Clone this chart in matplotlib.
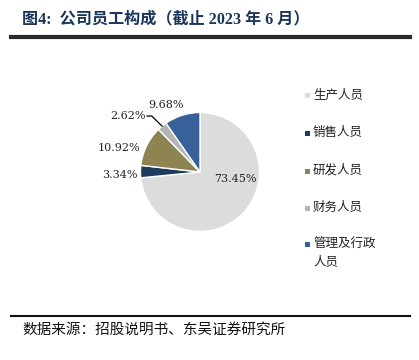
import matplotlib
matplotlib.use("Agg")
import matplotlib.pyplot as plt
from matplotlib.patches import Rectangle
from matplotlib.lines import Line2D
import numpy as np

plt.rcParams['font.family'] = ['Noto Sans CJK SC', 'DejaVu Sans']

categories = ['生产人员', '销售人员', '研发人员', '财务人员', '管理及行政人员']
legend_labels = ['生产人员', '销售人员', '研发人员', '财务人员', '管理及行政\n人员']
shares = [73.45, 3.34, 10.92, 2.62, 9.68]
colors = ['#dcdcdc', '#1d3a5f', '#8e8452', '#b5b5b5', '#38619a']

# label positions in units of the pie radius
label_pos = [(0.59, -0.12), (-1.34, -0.05), (-1.36, 0.40), (-1.21, 0.94), (-0.57, 1.13)]

W, H = 419, 360
fig = plt.figure(figsize=(W / 100, H / 100), dpi=100)

# title and rules
fig.text(22 / W, 1 - 19 / H, '图4:  公司员工构成（截止 2023 年 6 月）', fontsize=11.6,
         fontweight='bold', color='#1b365d', va='center', ha='left',
         family=['Liberation Serif', 'Noto Sans CJK SC'])
fig.add_artist(Line2D([11 / W, 410 / W], [1 - 36.5 / H] * 2, color='#2a2a2a', lw=3))
fig.add_artist(Line2D([11 / W, 410 / W], [1 - 315.5 / H] * 2, color='#111111', lw=1.5))
fig.text(22 / W, 1 - 330 / H, '数据来源：招股说明书、东吴证券研究所', fontsize=10.5,
         color='#111111', va='center', ha='left')

# pie
cx, cy, R = 200, 172, 59.5
box = 70
ax = fig.add_axes([(cx - box) / W, (H - cy - box) / H, 2 * box / W, 2 * box / H])
wedges, _ = ax.pie(shares, colors=colors, startangle=90, counterclock=False,
                   radius=R / box, wedgeprops=dict(edgecolor='white', linewidth=1))
ax.set_xlim(-1, 1)
ax.set_ylim(-1, 1)
ax.set_aspect('equal')
ax.axis('off')

s = R / box
for i, (v, (lx, ly)) in enumerate(zip(shares, label_pos)):
    txt = f'{v:.2f}%'
    if i == 3:
        w = wedges[i]
        mid = np.deg2rad((w.theta1 + w.theta2) / 2)
        ex, ey = np.cos(mid) * s, np.sin(mid) * s
        ax.plot([(-0.89) * s, (-0.81) * s, ex], [ly * s, ly * s, ey], color='black', lw=0.9,
                clip_on=False)
    ax.text(lx * s, ly * s, txt, fontsize=8, ha='center', va='center', color='#222222',
            family=['DejaVu Serif'], clip_on=False)

# legend
rows = [95, 133, 171, 208, 244]
for lab, col, y in zip(legend_labels, colors, rows):
    fig.add_artist(Rectangle(((305) / W, 1 - (y + 2.5) / H), 5 / W, 5 / H,
                             facecolor=col, edgecolor='none'))
    fig.text(313 / W, 1 - (y - 7) / H, lab, fontsize=9, color='#222222', va='top',
             ha='left', linespacing=1.55)

fig.savefig('out.png', dpi=100)
